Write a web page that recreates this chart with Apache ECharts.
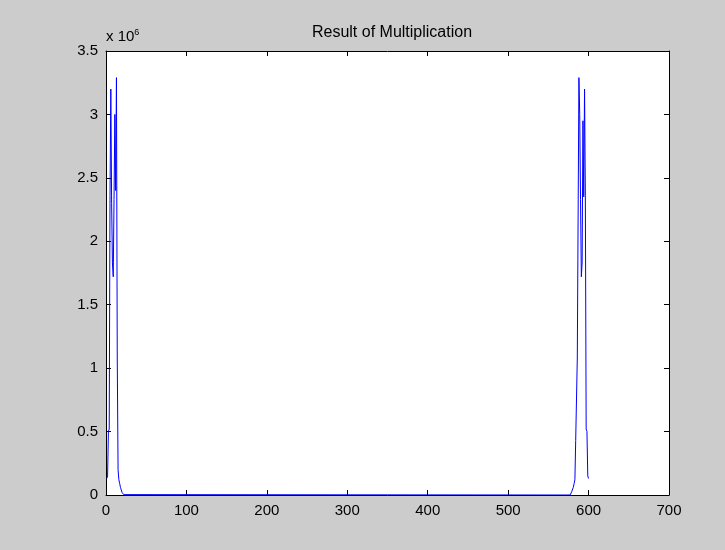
<!DOCTYPE html>
<html>
<head>
<meta charset="utf-8">
<script src="https://cdn.jsdelivr.net/npm/echarts@6/dist/echarts.min.js"></script>
<style>
  html, body { margin: 0; padding: 0; background: #cccccc; }
  #chart { width: 725px; height: 550px; }
</style>
</head>
<body>
<div id="chart"></div>
<script>
// sample index (x) and value in units of 10^6 (y)
var sampleIndex = [
  1, 2, 3, 4, 5, 6, 7, 8, 9, 10, 11, 12, 13, 14, 15, 16, 17, 18, 19, 20, 21, 22, 23,
  577, 578, 579, 580, 581, 582, 583, 584, 585, 586, 587, 588, 589, 590, 591, 592,
  593, 594, 595, 596, 597, 598, 599, 600
];
var valueE6 = [
  0.13, 0.15, 0.50, 0.52, 2.36, 3.20, 2.30, 1.83, 1.72, 2.33, 3.00, 2.40, 3.29, 1.08, 0.20, 0.12, 0.09, 0.06, 0.04, 0.02, 0.01, 0.003, 0,
  0, 0.01, 0.025, 0.04, 0.06, 0.09, 0.12, 0.43, 0.43, 1.08, 1.08, 3.29, 3.00, 2.33, 1.72, 1.83,
  2.95, 2.35, 3.20, 2.36, 0.52, 0.50, 0.15, 0.13
];
var xTicks = [0, 100, 200, 300, 400, 500, 600, 700];
var yTicks = [0, 0.5, 1, 1.5, 2, 2.5, 3, 3.5];

var chart = echarts.init(document.getElementById('chart'));

var points = [];
for (var i = 0; i < sampleIndex.length; i++) {
  points.push([sampleIndex[i], valueE6[i]]);
}

var font = 'Liberation Sans, Arial, sans-serif';

function xAxisOf(pos, labels) {
  return {
    type: 'value',
    position: pos,
    min: xTicks[0],
    max: xTicks[xTicks.length - 1],
    interval: 100,
    axisLine: { show: true, onZero: false, lineStyle: { color: '#000', width: 1 } },
    axisTick: { show: true, inside: true, length: 5, lineStyle: { color: '#000' } },
    axisLabel: { show: labels, color: '#000', fontSize: 15, fontFamily: font, margin: 8 },
    splitLine: { show: false }
  };
}

function yAxisOf(pos, labels) {
  return {
    type: 'value',
    position: pos,
    min: yTicks[0],
    max: yTicks[yTicks.length - 1],
    interval: 0.5,
    axisLine: { show: true, onZero: false, lineStyle: { color: '#000', width: 1 } },
    axisTick: { show: true, inside: true, length: 5, lineStyle: { color: '#000' } },
    axisLabel: { show: labels, color: '#000', fontSize: 15, fontFamily: font, margin: 8 },
    splitLine: { show: false }
  };
}

var yMain = yAxisOf('left', true);
yMain.name = 'x 10{sup|6}';
yMain.nameLocation = 'end';
yMain.nameGap = 5;
yMain.nameTextStyle = {
  color: '#000', fontSize: 15, fontFamily: font, align: 'left',
  rich: { sup: { fontSize: 9, verticalAlign: 'top', padding: [0, 0, 9, 0], fontFamily: font } }
};

var option = {
  backgroundColor: '#cccccc',
  animation: false,
  title: {
    text: 'Result of Multiplication',
    left: 387,
    top: 20,
    textAlign: 'center',
    textStyle: { color: '#000', fontSize: 16, fontWeight: 'normal', fontFamily: font }
  },
  grid: {
    left: 106, right: 56, top: 51, bottom: 55,
    show: true, backgroundColor: '#ffffff', borderWidth: 0
  },
  xAxis: [xAxisOf('bottom', true), xAxisOf('top', false)],
  yAxis: [yMain, yAxisOf('right', false)],
  series: [{
    type: 'line',
    data: points,
    showSymbol: false,
    lineStyle: { color: '#0000ff', width: 1 },
    itemStyle: { color: '#0000ff' }
  }]
};

chart.setOption(option);
</script>
</body>
</html>
